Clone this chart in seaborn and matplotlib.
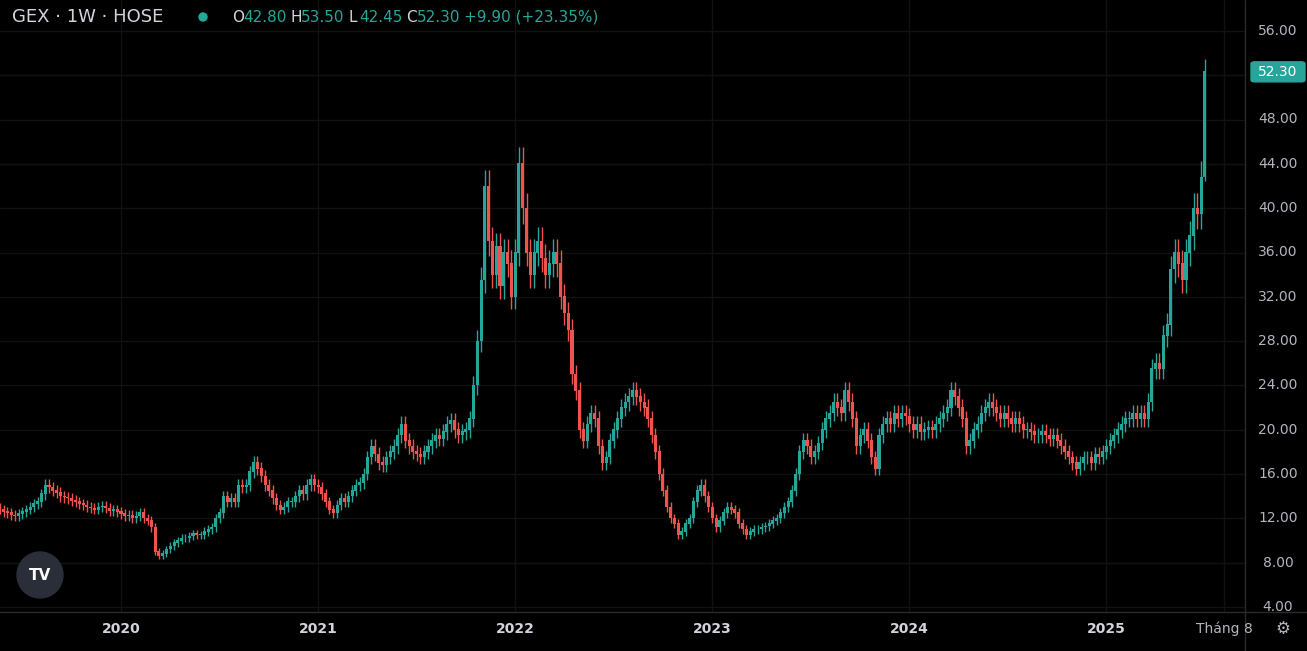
import numpy as np
import matplotlib.pyplot as plt
import seaborn as sns
from matplotlib.patches import Ellipse, FancyBboxPatch

# weekly closes, by calendar year
close_2019 = [12.8, 12.6, 12.5, 12.3, 12.2, 12.4, 12.6, 12.8, 13.0, 13.3, 13.5, 14.2, 15.0, 14.8, 14.5, 14.3,
              14.0, 13.9, 13.8, 13.6, 13.5, 13.3, 13.2, 13.0, 12.9, 12.8, 13.0, 13.1, 12.9, 12.7, 12.8, 12.6]
close_2020 = [12.4, 12.2, 12.3, 12.0, 12.2, 12.5, 12.0, 11.8, 11.2, 9.0, 8.6, 8.8, 9.2, 9.5, 9.8, 10.0, 10.2, 10.2,
              10.4, 10.6, 10.5, 10.5, 10.8, 11.0, 11.2, 12.0, 12.5, 14.0, 13.5, 13.8, 13.5, 15.0, 14.8, 15.0, 16.2,
              17.0, 16.5, 15.8, 15.0, 14.5, 13.8, 13.2, 12.8, 13.0, 13.5, 13.5, 14.0, 14.5, 14.2, 15.0, 15.5, 15.0]
close_2021 = [14.8, 14.2, 13.5, 12.8, 12.5, 13.2, 13.8, 13.5, 14.0, 14.5, 15.0, 15.2, 16.0, 17.5, 18.5, 17.8, 17.0,
              16.8, 17.5, 18.0, 18.5, 19.5, 20.5, 19.0, 18.5, 18.0, 17.8, 17.5, 18.0, 18.5, 19.0, 19.5, 19.2, 19.8,
              20.5, 20.8, 20.0, 19.5, 19.8, 20.0, 21.0, 24.0, 28.0, 33.5, 42.0, 37.0, 34.0, 36.5, 33.0, 36.0, 35.0, 32.0]
close_2022 = [36.0, 44.0, 40.0, 36.0, 34.0, 36.0, 37.0, 35.5, 34.0, 35.0, 36.0, 35.0, 32.0, 30.5, 29.0, 25.0, 23.5,
              20.0, 19.0, 20.5, 21.5, 21.0, 18.5, 17.0, 17.5, 19.0, 20.0, 21.0, 22.0, 22.5, 23.0, 23.5, 23.0, 22.5,
              22.0, 21.0, 19.5, 18.0, 16.0, 14.5, 13.0, 12.0, 11.5, 10.5, 10.8, 11.5, 12.0, 13.5, 14.5, 15.0, 14.0, 13.0]
close_2023 = [12.0, 11.2, 11.8, 12.5, 13.0, 12.8, 12.5, 11.5, 11.0, 10.5, 10.8, 11.0, 11.0, 11.2, 11.3, 11.5, 11.8,
              12.0, 12.5, 13.0, 13.5, 14.5, 16.0, 18.0, 19.0, 18.5, 17.5, 18.0, 18.8, 20.0, 21.0, 21.5, 22.5, 22.0,
              21.5, 23.5, 22.5, 21.0, 18.5, 19.5, 20.0, 19.0, 17.5, 16.5, 19.5, 20.5, 21.0, 20.5, 21.5, 21.0, 21.5, 21.2]
close_2024 = [20.5, 20.0, 20.5, 19.8, 20.0, 20.2, 20.0, 20.5, 21.0, 21.5, 22.0, 23.5, 23.0, 22.0, 21.0, 18.5, 19.0,
              20.0, 20.5, 21.5, 22.0, 22.5, 22.0, 21.5, 21.0, 21.5, 21.0, 20.5, 21.0, 20.5, 20.0, 20.0, 19.8, 19.5,
              19.5, 19.8, 19.5, 19.2, 19.5, 19.0, 18.5, 18.0, 17.5, 17.0, 16.5, 17.0, 17.5, 17.5, 17.0, 17.8, 17.5, 18.0]
close_2025 = [18.5, 19.0, 19.5, 20.0, 20.5, 21.0, 21.0, 21.5, 21.0, 21.5, 21.0, 22.5, 25.5, 26.0, 25.5, 28.5, 29.5,
              34.5, 36.0, 35.0, 33.5, 36.0, 37.5, 40.0, 39.5, 42.8, 52.3]
last_bar = dict(o=42.80, h=53.50, l=42.45, c=52.30)

year_labels = ["2020", "2021", "2022", "2023", "2024", "2025", "Tháng 8"]
price_ticks = [4, 8, 12, 16, 20, 24, 28, 32, 36, 40, 44, 48, 52, 56]

closes = np.array(close_2019 + close_2020 + close_2021 + close_2022 + close_2023 + close_2024 + close_2025)
opens = np.concatenate([[12.9], closes[:-1]])
opens[-1] = last_bar["o"]
highs = np.maximum(opens, closes) * 1.035
lows = np.minimum(opens, closes) * 0.965
highs[-1], lows[-1] = last_bar["h"], last_bar["l"]
idx = np.arange(len(closes))

starts = [len(close_2019)]
for yr in [close_2020, close_2021, close_2022, close_2023, close_2024]:
    starts.append(starts[-1] + len(yr))
tick_pos = starts + [starts[-1] + 31.1]

UP, DOWN, BG, GRID, TXT = "#26a69a", "#ef5350", "#000000", "#111111", "#b2b5be"
W, H = 1307, 651

sns.set_theme(style="dark", rc={"axes.facecolor": BG, "figure.facecolor": BG})
plt.rcParams["font.family"] = ["DejaVu Sans"]

fig = plt.figure(figsize=(13.07, 6.51), dpi=100)
ax = fig.add_axes([0, 1 - 612 / H, 1245 / W, 612 / H])
ax.set_facecolor(BG)

up = closes >= opens
colors = np.where(up, UP, DOWN)
ax.vlines(idx, lows, highs, colors=colors, linewidth=1)
ax.bar(idx, np.abs(closes - opens) + 0.05, bottom=np.minimum(opens, closes), width=0.8,
       color=colors, linewidth=0)

x0 = starts[0] - 121 / 3.79
ax.set_xlim(x0, x0 + 1245 / 3.79)
ax.set_ylim(4 - 5 / 11.08, 56 + 31 / 11.08)
for p in tick_pos:
    ax.axvline(p, color=GRID, lw=1, zorder=0)
for t in price_ticks:
    ax.axhline(t, color=GRID, lw=1, zorder=0)
ax.set_xticks([])
ax.set_yticks([])
for s in ax.spines.values():
    s.set_visible(False)


def fy(v):
    return (H - (607 - (v - 4) * 11.08)) / H


# right price scale
for t in price_ticks:
    if abs(t - last_bar["c"]) < 2:
        continue
    fig.text(1278 / W, fy(t), f"{t:.2f}", color=TXT, fontsize=10, ha="center", va="center")
fig.add_artist(plt.Line2D([1245 / W] * 2, [0, 1], color="#2a2a2a", lw=1))
fig.add_artist(plt.Line2D([0, 1], [1 - 612 / H] * 2, color="#2a2a2a", lw=1))
ly = fy(last_bar["c"])
fig.add_artist(FancyBboxPatch((1251 / W, ly - 10 / H), 54 / W, 20 / H,
                              boxstyle="round,pad=0,rounding_size=0.003", color=UP))
fig.text(1278 / W, ly, "52.30", color="white", fontsize=10, ha="center", va="center")

# time axis labels
for p, lab in zip(tick_pos, year_labels):
    xp = (121 + (p - starts[0]) * 3.79) / W
    month = lab.startswith("T")
    fig.text(xp, 22 / H, lab, color=TXT if month else "#d1d4dc", fontsize=10,
             ha="center", va="center", fontweight="normal" if month else "bold")
fig.text(1283 / W, 22 / H, "⚙", color=TXT, fontsize=12, ha="center", va="center")

# header
fig.text(12 / W, 1 - 17 / H, "GEX · 1W · HOSE", color="#d1d4dc", fontsize=13, va="center")
fig.add_artist(Ellipse((203 / W, 1 - 17 / H), 8 / W, 8 / H, transform=fig.transFigure, color=UP))
xs = 232
for lab, val in [("O", "42.80"), ("H", "53.50"), ("L", "42.45"), ("C", "52.30"), ("", "+9.90 (+23.35%)")]:
    if lab:
        fig.text(xs / W, 1 - 17 / H, lab, color="#d1d4dc", fontsize=11, va="center")
        xs += 11
    fig.text(xs / W, 1 - 17 / H, val, color=UP, fontsize=11, va="center")
    xs += 47

# logo
fig.add_artist(Ellipse((40 / W, 1 - 575 / H), 46 / W, 46 / H, transform=fig.transFigure, color="#2a2e39"))
fig.text(40 / W, 1 - 575 / H, "TV", color="white", fontsize=11, fontweight="bold",
         ha="center", va="center")

fig.savefig("out.png", dpi=100, facecolor=BG)
